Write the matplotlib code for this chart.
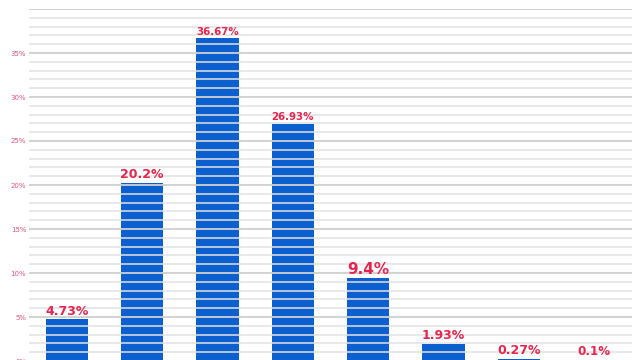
import matplotlib
matplotlib.use("Agg")
import matplotlib.pyplot as plt
import numpy as np

categories = ["c1", "c2", "c3", "c4", "c5", "c6", "c7", "c8"]
values = [4.73, 20.2, 36.67, 26.93, 9.4, 1.93, 0.27, 0.1]
labels = ["4.73%", "20.2%", "36.67%", "26.93%", "9.4%", "1.93%", "0.27%", "0.1%"]
ytick_vals = [0, 5, 10, 15, 20, 25, 30, 35]
ytick_labels = ["0%", "5%", "10%", "15%", "20%", "25%", "30%", "35%"]

label_sizes = [9, 9, 7.4, 7.4, 11, 9, 9, 8.6]

fig = plt.figure(figsize=(6.4, 3.6), dpi=100)
ax = fig.add_axes([29/640, -1/360, 603/640, 352/360])
x = np.arange(len(categories))
ax.bar(x, values, width=0.56, color="#0b5fcf", zorder=1)

for v in np.arange(0, 41, 1):
    major = (v % 5 == 0)
    ax.axhline(v, color="#cfcfcf" if major else "#e2e2e2",
               lw=1.3 if major else 1.1, zorder=2)

for xi, v, lab, fs in zip(x, values, labels, label_sizes):
    ax.text(xi, v + 0.2, lab, ha="center", va="bottom", fontsize=fs,
            fontweight="heavy", color="#e8244e", zorder=3)

ax.set_xlim(-0.5, 7.5)
ax.set_ylim(0, 40)
ax.set_yticks(ytick_vals)
ax.set_yticklabels(ytick_labels, fontsize=5, color="#e0557a")
ax.tick_params(axis="y", length=0, pad=2)
ax.set_xticks([])
for s in ax.spines.values():
    s.set_visible(False)

fig.savefig("out.png", dpi=100)
